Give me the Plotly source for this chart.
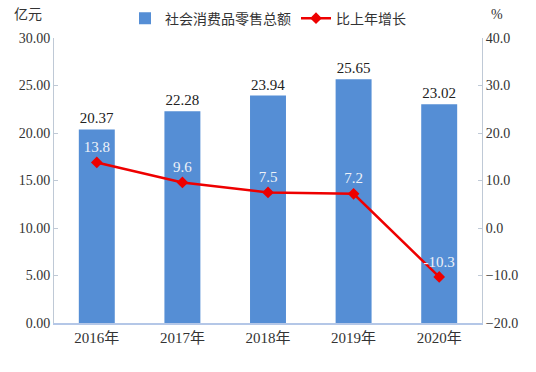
import plotly.graph_objects as go

years = ["2016年", "2017年", "2018年", "2019年", "2020年"]
sales = [20.37, 22.28, 23.94, 25.65, 23.02]
growth = [13.8, 9.6, 7.5, 7.2, -10.3]

FONT = "Liberation Serif, Noto Sans CJK SC, serif"
AXC = "#bfc9d6"

fig = go.Figure()
fig.add_trace(go.Bar(
    x=years, y=sales, name="社会消费品零售总额",
    marker=dict(color="#558ed5", line=dict(width=0)),
    width=0.42,
    text=[f"{v:.2f}" for v in sales], textposition="outside",
    textfont=dict(size=15, color="#222222", family=FONT),
    cliponaxis=False,
))
fig.add_trace(go.Scatter(
    x=years, y=growth, name="比上年增长", yaxis="y2",
    mode="lines+markers+text",
    line=dict(color="#ee0000", width=2.5),
    marker=dict(symbol="diamond", size=9, color="#ee0000"),
    text=[f"{v:.1f}" for v in growth], textposition="top center",
    textfont=dict(size=15, color="#eef2f8", family=FONT),
))

fig.update_layout(
    width=536, height=372,
    margin=dict(l=54, r=54, t=38, b=49, autoexpand=False),
    paper_bgcolor="white", plot_bgcolor="white",
    font=dict(family=FONT, size=13, color="#333333"),
    showlegend=True,
    legend=dict(orientation="h", x=0.5, xanchor="center", y=0.95, yanchor="middle",
                yref="container",
                font=dict(size=14, color="#333333"),
                traceorder="normal"),
    xaxis=dict(showline=True, linecolor="#b4c7e7", linewidth=2, ticks="",
               tickfont=dict(size=15, color="#333333"), showgrid=False,
               automargin=False),
    yaxis=dict(range=[0, 30], dtick=5, tickformat=".2f", showgrid=False,
               showline=True, linecolor=AXC, linewidth=1, ticks="inside",
               ticklen=4, tickcolor=AXC, tickfont=dict(size=14, color="#333333"),
               zeroline=False, automargin=False),
    yaxis2=dict(range=[-20, 40], dtick=10, tickformat=".1f", overlaying="y",
                side="right", showgrid=False, showline=True, linecolor=AXC,
                linewidth=1, ticks="inside", ticklen=4, tickcolor=AXC,
                tickfont=dict(size=14, color="#333333"), zeroline=False,
                automargin=False),
)
fig.add_annotation(text="亿元", xref="paper", yref="paper", x=-0.06, y=1.084,
                   showarrow=False, xanchor="center", yanchor="middle",
                   font=dict(size=14, color="#333333"))
fig.add_annotation(text="%", xref="paper", yref="paper", x=1.035, y=1.084,
                   showarrow=False, xanchor="center", yanchor="middle",
                   font=dict(size=14, color="#333333"))

fig.write_html("out.html", config={"displayModeBar": False},
               post_script="document.body.style.margin='0';")
